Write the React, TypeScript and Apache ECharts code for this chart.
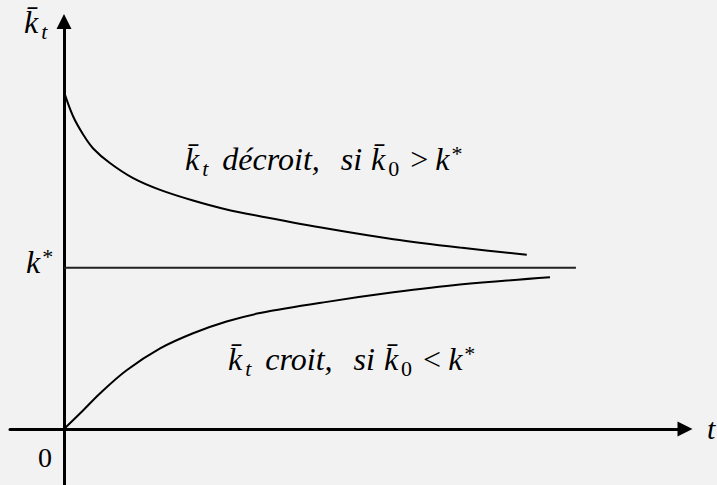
import React, { useEffect, useRef } from "react";
import * as echarts from "echarts";

// Time axis values (t) and capital per worker values along each path
const UPPER_T = [0, 0.17, 0.36, 0.54, 0.85, 1.28, 1.78, 2.39, 3.01, 3.63, 4.87, 6.1, 7.33, 8.57];
const UPPER_K = [6.02, 5.58, 5.25, 5.01, 4.75, 4.48, 4.27, 4.08, 3.92, 3.8, 3.58, 3.39, 3.24, 3.11];
const LOWER_T = [0, 0.3, 0.67, 1.16, 1.78, 2.39, 3.01, 3.63, 4.87, 6.1, 7.33, 9.0];
const LOWER_K = [0, 0.28, 0.64, 1.05, 1.44, 1.71, 1.92, 2.07, 2.27, 2.44, 2.58, 2.71];
const KSTAR = 2.88;
const KSTAR_T = [0, 9.48];

const LABEL_UPPER = "{k|k\u0304}{sub|t}{n|décroit,}{si|si}{k|k\u0304}{sub0|0}{op|>}{k|k}{sup|*}";
const LABEL_LOWER = "{k|k\u0304}{sub|t}{n|croit,}{si|si}{k|k\u0304}{sub0|0}{op|<}{k|k}{sup|*}";
const LABEL_YAXIS = "{k|k\u0304}{subA|t}";
const LABEL_KSTAR = "{k|k}{sup|*}";
const LABEL_ZERO = "0";
const LABEL_XAXIS = "t";

const FONT = "Liberation Serif";

const rich = {
  k: { fontFamily: FONT, fontStyle: "italic", fontSize: 32, color: "#000", padding: [0, 2, 0, 0] },
  n: { fontFamily: FONT, fontStyle: "italic", fontSize: 32, color: "#000", padding: [0, 0, 0, 8] },
  si: { fontFamily: FONT, fontStyle: "italic", fontSize: 32, color: "#000", padding: [0, 9, 0, 21] },
  op: { fontFamily: FONT, fontStyle: "normal", fontSize: 32, color: "#000", padding: [0, 7, 0, 9] },
  sub: { fontFamily: FONT, fontStyle: "italic", fontSize: 22, color: "#000", padding: [19, 6, 0, 1] },
  subA: { fontFamily: FONT, fontStyle: "italic", fontSize: 22, color: "#000", padding: [19, 0, 0, 1] },
  sub0: { fontFamily: FONT, fontStyle: "normal", fontSize: 22, color: "#000", padding: [19, 2, 0, 1] },
  sup: { fontFamily: FONT, fontStyle: "normal", fontSize: 22, color: "#000", padding: [0, 0, 11, 0] },
};

export default function App() {
  const ref = useRef<HTMLDivElement>(null);
  useEffect(() => {
    if (!ref.current) return;
    const chart = echarts.init(ref.current, undefined, { renderer: "svg" });
    const axisLineStyle = { color: "#000", width: 3 };
    chart.setOption({
      animation: false,
      backgroundColor: "#f2f2f2",
      grid: { left: 10, right: 32, top: 21.5, bottom: 0, containLabel: false },
      xAxis: {
        type: "value",
        min: -1,
        max: 11.5,
        axisLine: { show: true, onZero: true, symbol: ["none", "triangle"], symbolSize: [15, 15], lineStyle: axisLineStyle },
        axisTick: { show: false },
        axisLabel: { show: false },
        splitLine: { show: false },
      },
      yAxis: {
        type: "value",
        min: -1,
        max: 7.277,
        axisLine: { show: true, onZero: true, symbol: ["none", "triangle"], symbolSize: [15, 15], lineStyle: axisLineStyle },
        axisTick: { show: false },
        axisLabel: { show: false },
        splitLine: { show: false },
      },
      series: [
        {
          type: "line",
          data: UPPER_T.map((t, i) => [t, UPPER_K[i]]),
          smooth: 0.35,
          showSymbol: false,
          lineStyle: { color: "#000", width: 2 },
        },
        {
          type: "line",
          data: LOWER_T.map((t, i) => [t, LOWER_K[i]]),
          smooth: 0.35,
          showSymbol: false,
          lineStyle: { color: "#000", width: 2 },
        },
        {
          type: "line",
          data: KSTAR_T.map((t) => [t, KSTAR]),
          showSymbol: false,
          lineStyle: { color: "#222", width: 2 },
        },
      ],
      graphic: [
        { type: "text", x: 185, y: 159, style: { text: LABEL_UPPER, rich, align: "left", verticalAlign: "middle" } },
        { type: "text", x: 228, y: 359, style: { text: LABEL_LOWER, rich, align: "left", verticalAlign: "middle" } },
        { type: "text", x: 24, y: 22, style: { text: LABEL_YAXIS, rich, align: "left", verticalAlign: "middle" } },
        { type: "text", x: 26, y: 262, style: { text: LABEL_KSTAR, rich, align: "left", verticalAlign: "middle" } },
        {
          type: "text",
          x: 38,
          y: 457,
          style: { text: LABEL_ZERO, fontFamily: FONT, fontSize: 28, fill: "#000", align: "left", verticalAlign: "middle" },
        },
        {
          type: "text",
          x: 707,
          y: 428,
          style: { text: LABEL_XAXIS, fontFamily: FONT, fontStyle: "italic", fontSize: 30, fill: "#000", align: "left", verticalAlign: "middle" },
        },
      ],
    });
    return () => chart.dispose();
  }, []);
  return <div ref={ref} style={{ position: "fixed", left: 0, top: 0, width: 717, height: 485 }} />;
}
